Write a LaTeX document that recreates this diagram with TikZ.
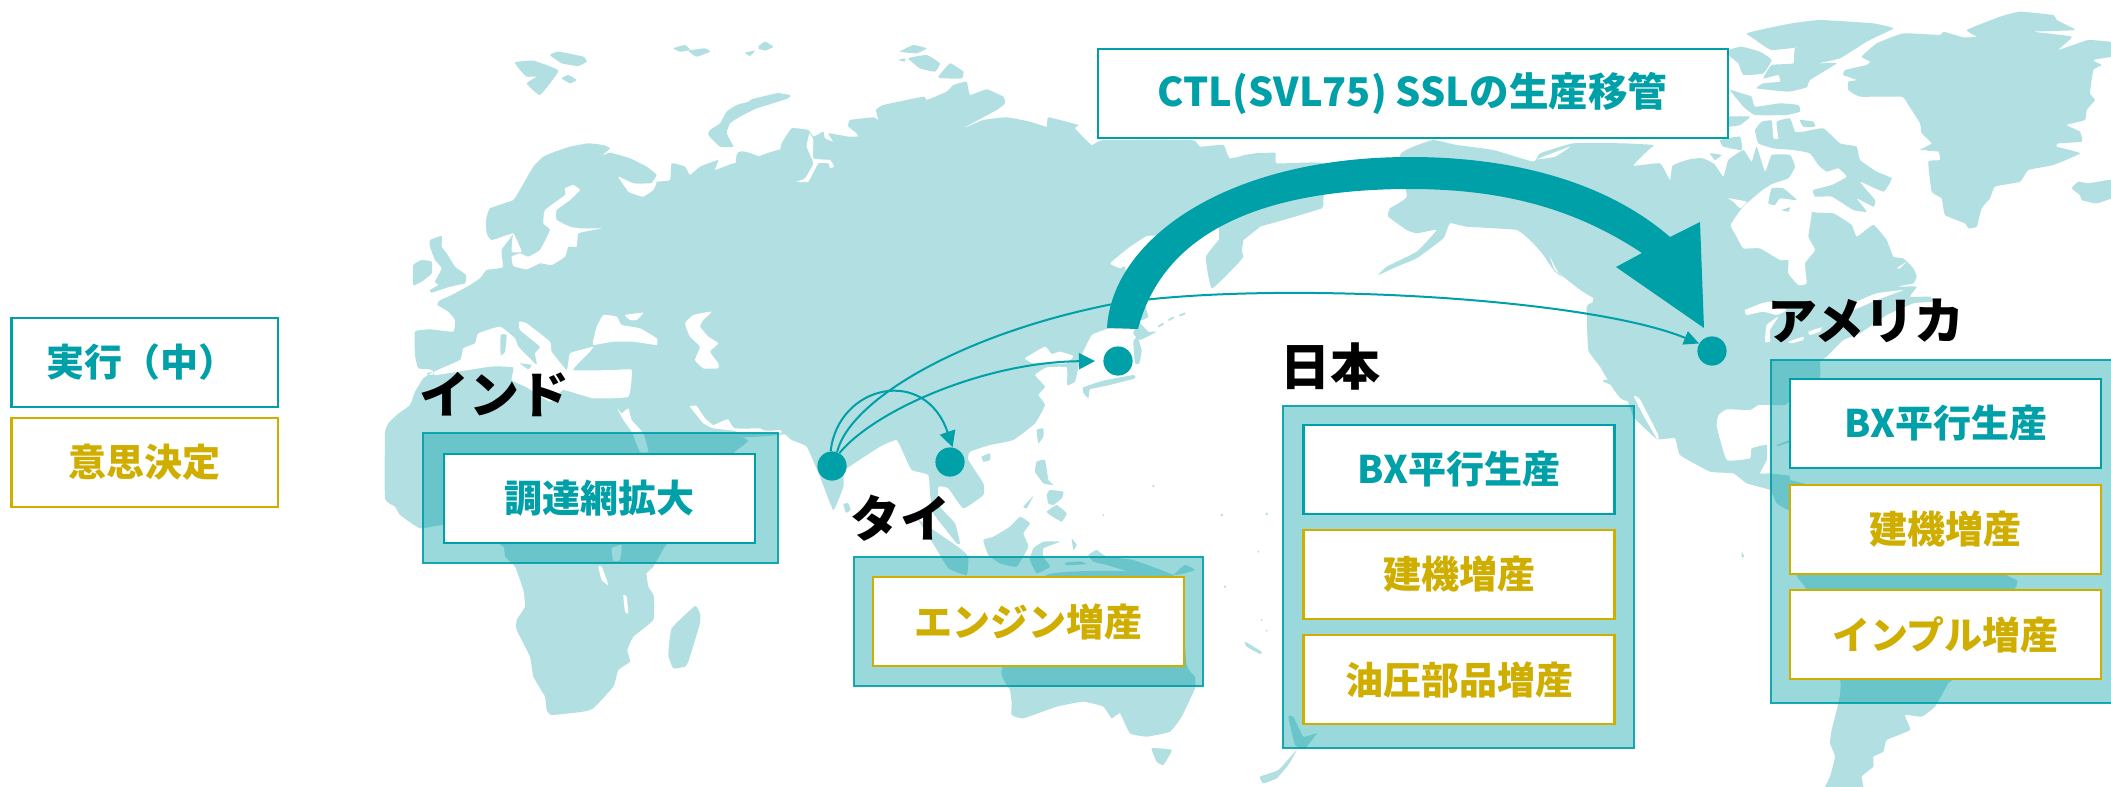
\documentclass[tikz,border=0pt]{standalone}
\usepackage{fontspec}
\setmainfont{Noto Sans CJK JP}
\usetikzlibrary{arrows.meta}
\definecolor{teal1}{HTML}{00A0A8}
\definecolor{gold1}{HTML}{CFAE00}
\definecolor{landc}{HTML}{B2DFE1}
\newcommand\landp[1]{\fill[landc] plot[smooth cycle,tension=.22] coordinates {#1};}
\newcommand\seap[1]{\fill[white] plot[smooth cycle,tension=.22] coordinates {#1};}
\tikzset{
 boxtext/.style={font=\bfseries\fontsize{19}{21}\selectfont,inner sep=0pt,align=center},
 tealbox/.style={boxtext,draw=teal1,line width=1.3pt,fill=white,text=teal1,minimum width=155.5pt,minimum height=44.5pt},
 goldbox/.style={boxtext,draw=gold1,line width=1.3pt,fill=white,text=gold1,minimum width=155.5pt,minimum height=44.5pt},
 panel/.style={draw=teal1,line width=.7pt,draw opacity=.9,fill=teal1,fill opacity=.4,inner sep=0pt},
 place/.style={font=\bfseries\fontsize{25}{27}\selectfont,text=black,inner sep=0pt},
 citydot/.style={circle,fill=teal1,inner sep=0pt,minimum size=14.6pt},
 thin arrow/.style={draw=teal1,line width=1pt,-{Triangle[length=8pt,width=8pt]}},
 bigarrow/.style={fill=teal1}
}
\begin{document}
\begin{tikzpicture}[x=.5pt,y=-.5pt]
\useasboundingbox (0,0) rectangle (2111,787);
\clip (0,0) rectangle (2111,787);
% ---- Europe / N Asia west
\begin{scope}[shift={(380,30)},scale=.33333]
\landp{(105,905) (150,898) (220,905) (225,870) (205,845) (172,825) (178,812) (215,795) (265,768) (300,745) (320,720) (368,712) (365,660) (400,610) (335,630) (320,610) (318,570) (330,535) (400,510) (425,470) (460,410) (490,380) (525,365) (570,350) (625,340) (670,345) (690,355) (665,378) (690,368) (750,385) (800,410) (830,435) (815,458) (830,455) (870,450) (875,400) (915,410) (930,435) (960,410) (1015,390) (1005,420) (1060,400) (1110,400) (1120,385) (1260,375) (1260,1200) (160,1200) (160,1025) (115,1015) (105,975)}
\seap{(715,440) (760,460) (810,460) (830,455) (820,480) (790,500) (770,495) (745,485)}
\seap{(495,540) (555,495) (555,475) (580,465) (600,480) (570,510) (530,540) (530,570) (570,590) (600,595) (665,595) (640,600) (595,610) (590,650) (565,650) (555,680) (515,705) (480,700) (440,718) (400,708) (395,680) (420,670) (445,680) (480,660) (510,600) (490,580)}
\seap{(400,610) (425,665) (395,665)}
\seap{(640,930) (650,890) (670,855) (710,860) (725,885) (780,895) (830,925) (830,945) (760,935) (700,935) (640,945)}
\seap{(735,855) (790,848) (770,870) (750,870)}
\seap{(915,880) (940,855) (995,845) (970,870) (960,890) (985,920) (1015,940) (990,965) (1015,1000) (1015,1015) (970,1015) (945,990) (960,950) (930,920)}
\seap{(1080,875) (1110,853) (1120,890) (1100,905) (1080,895)}
\landp{(150,630) (185,618) (185,650) (200,670) (225,710) (258,735) (255,760) (210,770) (155,788) (150,780) (175,765) (165,755) (185,715) (165,690) (150,650)}
\landp{(100,705) (125,690) (155,695) (155,730) (125,755) (100,765)}
\landp{(405,97) (460,92) (535,122) (480,195) (440,160) (470,140) (440,140) (420,120)}
\landp{(510,75) (535,65) (610,80) (620,95) (595,108) (545,100)}
\landp{(545,145) (565,135) (590,150) (570,160)}
\landp{(880,55) (915,45) (930,60) (900,65)}
\landp{(925,62) (975,55) (990,65) (950,80)}
\landp{(1095,68) (1125,62) (1110,78)}
\landp{(1135,50) (1155,35) (1180,50) (1155,62)}
\landp{(1200,188) (1125,210) (1070,225) (1040,245) (1020,280) (990,300) (985,315) (1020,350) (1060,350) (1040,310) (1050,280) (1080,260) (1150,225) (1200,205)}
\end{scope}
% ---- Africa + Arabia
\begin{scope}[shift={(380,400)},scale=.33333]
\landp{(15,100) (15,295) (45,320) (60,345) (120,385) (190,375) (300,400) (370,440) (375,470) (405,500) (430,570) (435,620) (410,660) (410,690) (450,770) (460,830) (495,890) (500,930) (515,945) (610,935) (640,925) (700,860) (715,810) (750,785) (742,750) (760,710) (820,660) (822,590) (805,560) (800,520) (820,500) (860,432) (1000,250) (1060,160) (1105,122) (1060,95) (1200,85) (1200,-85) (170,-75) (160,-85) (130,-65) (105,-25) (90,15) (50,45) (25,70)}
\seap{(712,25) (725,40) (745,25) (755,60) (790,100) (805,155) (780,155) (755,95) (730,60)}
\seap{(930,20) (950,18) (975,55) (1000,75) (1030,62) (1045,58) (1065,85) (1200,85) (1200,100) (1090,100) (1060,92) (1000,85) (970,70)}
\seap{(655,500) (665,500) (685,555) (665,540)}
\seap{(730,585) (740,590) (745,640) (735,635)}
\seap{(695,445) (725,435) (720,480) (700,482)}
\landp{(875,685) (945,618) (960,640) (960,670) (925,785) (915,800) (880,805) (865,765)}
\end{scope}
% ---- Mediterranean over the Africa block
\begin{scope}[shift={(380,30)},scale=.33333]
\seap{(162,1025) (240,990) (250,955) (285,940) (295,910) (360,890) (405,925) (415,950) (470,1005) (465,970) (480,950) (420,900) (418,875) (440,880) (510,935) (515,965) (560,1020) (570,970) (620,955) (640,950) (630,965) (580,1020) (700,1020) (755,1020) (745,1100) (640,1105) (550,1080) (510,1115) (440,1072) (395,1050) (400,1012) (330,1010) (170,1035)}
\landp{(420,1000) (455,1005) (445,1018)}
\landp{(362,915) (380,915) (375,965) (362,975)}
\end{scope}
% ---- Asia north
\begin{scope}[shift={(750,30)},scale=.33333]
\landp{(-40,375) (50,390) (115,405) (90,370) (95,340) (125,295) (175,300) (190,320) (220,305) (225,325) (250,335) (235,310) (295,320) (325,320) (335,345) (320,310) (295,290) (300,270) (370,262) (385,270) (378,240) (400,225) (520,200) (530,210) (590,185) (610,165) (650,155) (660,195) (710,178) (760,200) (765,220) (740,240) (635,297) (700,270) (770,262) (840,275) (890,290) (895,262) (985,285) (975,295) (1025,345) (1060,330) (1325,330) (1350,350) (1420,345) (1440,385) (1530,370) (1530,480) (1300,575) (1230,615) (1190,618) (1140,650) (1080,700) (1110,715) (1125,710) (1130,760) (1120,890) (1075,895) (900,900) (-40,900)}
\seap{(178,310) (190,330) (190,385) (240,390) (252,410) (240,415) (235,400) (205,400) (175,455) (140,455) (165,445) (190,400) (170,350)}
\landp{(1368,680) (1385,775) (1450,715) (1480,680) (1470,640) (1530,590) (1530,560) (1430,605)}
\landp{(450,65) (490,45) (530,55) (500,70)}
\landp{(475,85) (530,75) (570,100) (555,125) (510,115)}
\landp{(565,140) (600,100) (640,125) (635,145) (575,145)}
\landp{(445,90) (465,85) (465,95)}
\landp{(0,210) (80,190) (120,195) (115,205) (0,240)}
\landp{(25,55) (45,35) (65,50) (40,60)}
% Japan and neighbours
\landp{(1000,1072) (1060,1052) (1150,1035) (1155,1045) (1075,1066) (1020,1078) (1015,1105) (1000,1088)}
\landp{(1150,935) (1162,920) (1175,960) (1168,1000) (1155,1000)}
\landp{(1165,875) (1195,905) (1220,905) (1170,930) (1150,910)}
\landp{(1165,790) (1178,810) (1195,860) (1170,870)}
\draw[landc,line width=.9pt,dashed] (1225,890) -- (1265,865) -- (1320,845);
\end{scope}
% ---- South / East Asia
\begin{scope}[shift={(780,280)},scale=.33333]
\landp{(-60,100) (-60,440) (0,450) (35,480) (80,500) (120,590) (160,690) (190,620) (195,570) (300,500) (350,480) (375,530) (395,570) (445,585) (450,640) (460,700) (530,790) (540,790) (525,730) (475,675) (475,620) (505,625) (550,685) (610,645) (610,610) (565,540) (570,515) (630,495) (700,480) (765,430) (795,375) (775,345) (795,320) (765,285) (800,262) (860,262) (862,315) (885,305) (895,262) (905,225) (935,165) (985,145) (1040,120)}
\seap{(735,235) (795,200) (815,222) (840,215) (880,228) (860,250) (800,250) (760,250)}
\landp{(190,672) (205,670) (212,690) (198,698)}
\end{scope}
% ---- SE Asia islands, Australia
\begin{scope}[shift={(880,420)},scale=.33333]
\landp{(470,30) (490,25) (490,50) (475,70)}
\landp{(305,110) (330,100) (330,120) (310,125)}
\landp{(470,125) (495,120) (505,180) (520,195) (490,190) (465,155)}
\landp{(500,225) (510,210) (550,215) (545,235) (520,255) (505,250)}
\landp{(500,275) (530,255) (560,280) (545,305) (510,285)}
\landp{(430,260) (460,228) (440,265)}
\landp{(310,360) (340,350) (390,320) (420,290) (450,310) (430,340) (445,380) (410,440) (360,430) (325,405)}
\landp{(460,385) (490,365) (540,365) (490,385) (490,410) (510,440) (470,460) (450,420)}
\landp{(115,300) (175,340) (240,385) (265,410) (260,465) (205,445) (165,380)}
\landp{(625,405) (650,390) (680,410) (760,420) (880,465) (800,470) (730,450) (680,435) (640,425)}
\landp{(880,465) (915,435) (945,450) (905,462)}
\landp{(555,428) (600,424) (620,432) (560,436)}
\landp{(575,355) (590,375) (580,390)}
\landp{(365,750) (390,810) (395,850) (395,885) (430,895) (530,860) (610,845) (670,860) (695,895) (720,880) (750,940) (800,950) (870,935) (905,890) (945,805) (945,770) (920,735) (880,465) (500,465)}
\landp{(815,985) (875,990) (850,1035) (830,1025)}
\landp{(1225,890) (1240,890) (1270,950) (1310,940) (1275,985) (1245,975)}
\landp{(1250,990) (1195,1050) (1140,1070) (1150,1090) (1190,1075) (1225,1035)}
\landp{(1095,665) (1145,695) (1140,702) (1100,680)}
\fill[landc] (820,198) circle (4) (1025,285) circle (4) (1160,282) circle (4) (670,285) circle (3) (1135,395) circle (3) (1035,500) circle (4) (1145,600) circle (3) (1160,632) circle (3);
\end{scope}
% ---- North America west
\begin{scope}[shift={(1240,0)},scale=.33333]
\landp{(0,470) (105,458) (110,490) (250,490) (250,600) (245,625) (130,660) (60,680) (15,700) (0,770) (-60,780) (-60,600)}
\landp{(480,465) (520,440) (580,420) (650,435) (760,450) (880,485) (900,460) (1000,430) (1150,430) (1240,435) (1225,450) (1180,497) (1260,490) (1290,540) (1300,495) (1400,495) (1400,1200) (1150,1200) (1080,1100) (1045,1050) (1040,920) (1060,905) (1020,870) (945,815) (910,765) (880,730) (830,690) (680,680) (630,670) (610,715) (530,775) (470,800) (415,825) (440,800) (530,755) (590,690) (530,700) (500,690) (445,650) (450,625) (500,590)}
\seap{(890,478) (990,440) (945,470)}
\seap{(365,605) (395,600) (405,610) (375,615)}
\seap{(930,770) (950,810) (990,860) (1050,905) (1060,895) (1020,870) (945,810)}
\end{scope}
% ---- Canada east, Greenland
\begin{scope}[shift={(1700,0)},scale=.33333]
\landp{(-20,495) (40,490) (70,530) (85,480) (130,450) (155,485) (170,440) (195,515) (215,465) (270,465) (285,500) (265,535) (205,560) (335,635) (400,640) (455,675) (470,710) (520,675) (560,720) (580,770) (610,775) (640,805) (650,830) (640,850) (590,860) (650,860) (630,890) (690,890) (695,905) (640,910) (560,945) (480,1000) (430,1020) (380,1070) (360,1085) (360,1130) (300,1200) (-20,1200)}
\seap{(205,560) (130,620) (92,675) (110,710) (130,745) (180,745) (240,780) (265,780) (265,820) (295,855) (320,850) (315,790) (345,750) (325,710) (335,635) (300,600)}
\seap{(85,595) (140,605) (120,625) (100,605)}
\landp{(205,610) (215,565) (250,565) (290,600) (240,595) (225,615)}
\landp{(245,630) (270,622) (265,635)}
\seap{(135,930) (185,910) (215,905) (260,930) (230,945) (190,935) (140,945)}
\seap{(195,1025) (200,975) (235,950) (210,990) (210,1025)}
\seap{(265,1025) (310,1010) (310,1020) (275,1030)}
\seap{(325,995) (365,982) (360,995) (330,1005)}
\seap{(470,905) (530,880) (610,870) (530,900) (460,930)}
\seap{(590,805) (620,785) (600,805)}
\landp{(310,395) (370,385) (420,430) (470,440) (480,480) (530,515) (575,535) (550,575) (480,545) (525,600) (520,620) (470,595) (500,635) (460,630) (395,590) (345,590) (340,570) (395,555) (440,530) (415,505) (380,515) (355,495) (330,460) (280,450) (220,445) (175,430) (165,390) (185,365) (215,362) (220,415) (235,415) (230,365) (270,355) (285,395)}
\landp{(140,100) (200,85) (275,70) (360,60) (520,70) (580,85) (530,110) (500,125) (420,175) (355,190) (410,190) (330,240) (320,262) (265,275) (170,265) (190,250) (240,245) (235,225) (190,235) (215,195) (280,190) (285,145) (350,135) (215,150) (160,115)}
\landp{(85,150) (125,140) (180,155) (215,180) (190,220) (130,225) (115,190) (85,165)}
\landp{(90,270) (125,280) (155,290) (165,320) (240,310) (295,315) (300,335) (260,345) (165,345) (130,320)}
\landp{(85,350) (150,350) (120,375) (85,380)}
\landp{(60,420) (120,410) (125,450) (70,440)}
\landp{(30,460) (65,465) (45,480)}
\landp{(300,360) (340,365) (345,380) (310,380)}
\landp{(800,90) (900,50) (960,35) (1060,45) (1070,60) (1125,90) (1000,95) (1115,110) (1075,150) (1165,120) (1260,130) (1260,165) (1180,180) (1205,195) (1180,210) (1170,280) (1185,300) (1160,330) (1155,360) (1100,375) (1140,395) (1145,425) (1075,430) (1070,440) (1140,460) (1060,495) (985,510) (960,545) (885,560) (870,595) (845,625) (830,680) (805,685) (795,670) (735,645) (725,595) (695,575) (685,485) (720,480) (715,455) (660,450) (695,430) (665,400) (660,370) (625,315) (605,290) (480,290) (445,270) (445,245) (470,240) (430,225) (435,210) (500,195) (510,185) (485,170) (530,130) (610,100) (720,105) (730,95) (790,112) (830,110)}
\seap{(655,452) (675,450) (695,465) (670,470)}
\landp{(1115,565) (1135,545) (1165,550) (1225,540) (1260,545) (1260,585) (1190,610) (1145,600) (1140,585)}
\end{scope}
% ---- Mexico, Central + South America
\begin{scope}[shift={(1550,380)},scale=.33333]
\landp{(165,0) (220,30) (250,110) (290,150) (322,178) (375,175) (390,225) (480,275) (550,280) (590,310) (660,330) (680,370) (720,390) (720,290) (700,285) (660,280) (630,280) (650,240) (650,195) (605,205) (600,235) (530,240) (500,140) (505,105) (530,88) (600,90) (625,75) (660,75) (705,75) (720,60) (720,0)}
\seap{(252,50) (268,55) (325,165) (322,178) (285,115)}
\landp{(680,195) (720,180) (720,186) (685,198)}
\landp{(575,515) (583,530) (575,532)}
\landp{(720,390) (740,585) (770,630) (870,900) (865,970) (845,1050) (840,1090) (855,1130) (840,1190) (820,1240) (940,1240) (935,1190) (970,1160) (970,1130) (1000,1115) (1010,1080) (1080,1050) (1065,1005) (1115,1010) (1155,980) (1195,910) (1220,885) (1395,625) (1400,600) (1370,585) (1100,400) (720,300) (670,285)}
\end{scope}

% ---- legend
\node[tealbox,line width=1.1pt,minimum width=133.2pt,minimum height=44.5pt] (legA) at (144.7,362.5) {実行（中）\hspace*{3pt}};
\node[goldbox,line width=1.1pt,minimum width=133.2pt,minimum height=44.5pt] (legB) at (144.7,462.5) {意思決定};

% ---- panels
\node[panel,minimum width=177.5pt,minimum height=65pt] (pIn) at (600.5,498) {};
\node[panel,minimum width=174.5pt,minimum height=64.5pt] (pTh) at (1028.5,621.5) {};
\node[panel,minimum width=175.5pt,minimum height=171pt] (pJp) at (1458.5,577) {};
\node[panel,minimum width=200pt,minimum height=171.5pt] (pUs) at (1971,531.5) {};

% ---- place labels
\node[place] (lIn) at (494,394) {インド};
\node[place] (lTh) at (900,518) {タイ};
\node[place] (lJp) at (1330,366) {日本};
\node[place] (lUs) at (1866,321) {アメリカ};

% ---- inner boxes
\node[tealbox] (bIn) at (599.5,498.5) {調達網拡大};
\node[goldbox] (bTh) at (1028.5,621.5) {エンジン増産};
\node[tealbox] (bJ1) at (1459,469.5) {BX平行生産};
\node[goldbox] (bJ2) at (1459,574.5) {建機増産};
\node[goldbox] (bJ3) at (1459,679.5) {油圧部品増産};
\node[tealbox] (bU1) at (1945.5,423.5) {BX平行生産};
\node[goldbox] (bU2) at (1945.5,529.5) {建機増産};
\node[goldbox] (bU3) at (1945.5,634.5) {インプル増産};

% ---- CTL box
\node[boxtext,font=\bfseries\fontsize{19.8}{21}\selectfont,draw=teal1,line width=1pt,fill=white,fill opacity=.95,text opacity=1,text=teal1,minimum width=315pt,minimum height=44.5pt] (bCTL) at (1412.5,93.5) {CTL(SVL75) SSLの生産移管};

% ---- dots
\node[citydot] (ind) at (832,466) {};
\node[citydot] (tha) at (950,462) {};
\node[citydot] (jpn) at (1118,361) {};
\node[citydot] (usa) at (1712,351) {};

% ---- connectors
\draw[thin arrow] (ind.95) .. controls (838,385) and (925,365) .. (tha.80);
\draw[thin arrow,shorten >=4pt] (ind.60) .. controls (875,410) and (985,362) .. (jpn.west);
\draw[draw=teal1,line width=1pt,-{Triangle[length=7.5pt,width=7pt]}] (ind.70) .. controls (850,400) and (960,335) .. (1108,305) .. controls (1250,280) and (1580,295) .. (usa.150);

% ---- big arrow
\coordinate (bigS) at (1107,328);
\fill[bigarrow] (bigS) .. controls (1112,240) and (1225,157) .. (1410,157) .. controls (1520,157) and (1610,185) .. (1670,237) -- (1700,222) -- (1704,328) -- (1616,267) -- (1642,253) .. controls (1580,212) and (1510,189) .. (1410,189) .. controls (1275,189) and (1165,225) .. (1138,329) -- cycle;
\end{tikzpicture}
\end{document}
